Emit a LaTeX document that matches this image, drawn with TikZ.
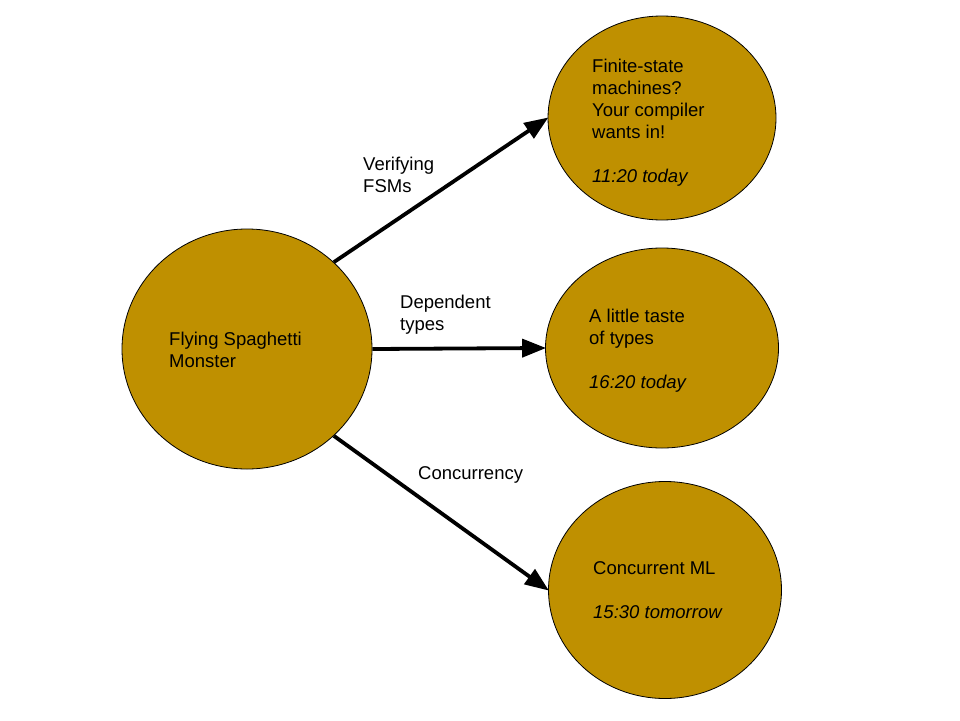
\documentclass[tikz,border=0pt]{standalone}
\usepackage{fontspec}
\setmainfont{Liberation Sans}
\usetikzlibrary{shapes.geometric}
\usetikzlibrary{arrows.meta}
\definecolor{bubblegold}{HTML}{BF9000}

\begin{document}
\begin{tikzpicture}[x=1pt, y=-1pt,
  bubble/.style={ellipse, draw=black, fill=bubblegold, line width=0.8pt, inner sep=0},
  txt/.style={anchor=north west, inner sep=0, align=left, font=\fontsize{18.5}{22}\selectfont},
  link/.style={black, line width=3.8pt, -{Triangle[length=24pt, width=18pt]}, shorten >=-1pt}]
\useasboundingbox (0,0) rectangle (960,720);
% talks
\node[bubble, minimum width=250pt, minimum height=240pt] (fsm0) at (247,349) {};
\node[bubble, minimum width=228pt, minimum height=204pt] (fsmtalk) at (662,118) {};
\node[bubble, minimum width=233pt, minimum height=200pt] (deptalk) at (662,348) {};
\node[bubble, minimum width=233pt, minimum height=217pt] (cmltalk) at (665,590) {};
\node[txt] (fsmtext) at (169,332) {Flying Spaghetti\\Monster};
\node[txt] (fsmtalktext) at (592,59) {Finite-state\\machines?\\Your compiler\\wants in!\\[22pt]\textit{11:20 today}};
\node[txt] (deptalktext) at (589,309) {A little taste\\of types\\[22pt]\textit{16:20 today}};
\node[txt] (cmltalktext) at (593,561) {Concurrent ML\\[22pt]\textit{15:30 tomorrow}};
% links
\draw[link] (fsm0.45) -- (fsmtalk.west);
\draw[link] (fsm0.east) -- (deptalk.west);
\draw[link] (fsm0.-45) -- (cmltalk.west);
\node[txt] (fsmlabel) at (363,157) {Verifying\\FSMs};
\node[txt] (deplabel) at (400,295) {Dependent\\types};
\node[txt] (cmllabel) at (418,466) {Concurrency};
\end{tikzpicture}
\end{document}
